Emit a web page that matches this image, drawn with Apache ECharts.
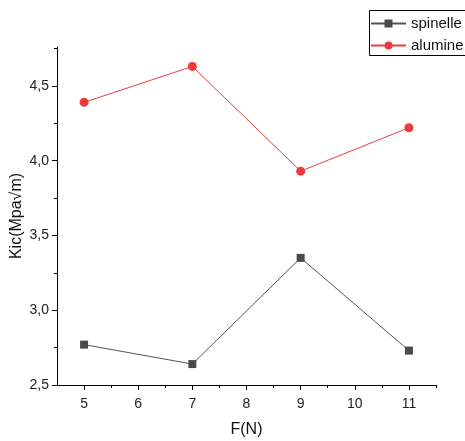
<!DOCTYPE html>
<html><head><meta charset="utf-8">
<script src="https://cdn.jsdelivr.net/npm/echarts@6/dist/echarts.min.js"></script>
<style>html,body{margin:0;padding:0;background:#fff}#c{width:465px;height:441px}</style>
</head><body><div id="c"></div>
<script>
const forces = [5, 7, 9, 11];
const spinelle = [2.77, 2.64, 3.35, 2.73];
const alumine = [4.39, 4.63, 3.93, 4.22];
const xTicks = [5, 6, 7, 8, 9, 10, 11];
const xMinorTicks = [5.5, 6.5, 7.5, 8.5, 9.5, 10.5, 11.5];
const yTicks = [2.5, 3.0, 3.5, 4.0, 4.5];
const yMinorTicks = [2.75, 3.25, 3.75, 4.25, 4.75];

const font = 'Liberation Sans, Arial, sans-serif';
const chart = echarts.init(document.getElementById('c'), null, {renderer: 'canvas'});
const fmt = v => v.toFixed(1).replace('.', ',');
chart.setOption({
  animation: false,
  backgroundColor: '#fff',
  grid: {left: 57, right: 29, top: 47, bottom: 56, containLabel: false, outerBoundsMode: 'none'},
  graphic: [{
    type: 'rect', shape: {x: 369.5, y: 10.5, width: 130, height: 45},
    style: {fill: 'none', stroke: '#000', lineWidth: 1}, z: 10
  }],
  legend: {
    orient: 'vertical', left: 368, top: 10,
    borderWidth: 0,
    padding: [6, 0, 0, 2], itemGap: 7,
    itemWidth: 35, itemHeight: 10,
    textStyle: {fontFamily: font, fontSize: 15, color: '#111'},
    data: ['spinelle', 'alumine']
  },
  xAxis: [{
    type: 'value', min: 4.5, max: 11.5,
    name: 'F(N)', nameLocation: 'middle', nameGap: 37, nameMoveOverlap: false,
    nameTextStyle: {fontFamily: font, fontSize: 16, color: '#111'},
    axisLine: {lineStyle: {color: '#000', width: 1}},
    axisTick: {show: true, customValues: xTicks, length: 5, lineStyle: {color: '#000'}},
    axisLabel: {customValues: xTicks, fontFamily: font, fontSize: 14, color: '#222', margin: 12},
    splitLine: {show: false}
  }, {
    type: 'value', min: 4.5, max: 11.5, position: 'bottom',
    axisLine: {show: false},
    axisTick: {show: true, customValues: xMinorTicks, length: 3, lineStyle: {color: '#000'}},
    axisLabel: {show: false},
    splitLine: {show: false}
  }],
  yAxis: [{
    type: 'value', min: 2.5, max: 4.76,
    name: 'Kic(Mpa√m)', nameLocation: 'middle', nameGap: 32, nameMoveOverlap: false,
    nameTextStyle: {fontFamily: font, fontSize: 16, color: '#111'},
    axisLine: {show: true, lineStyle: {color: '#000', width: 1}},
    axisTick: {show: true, customValues: yTicks, length: 5, lineStyle: {color: '#000'}},
    axisLabel: {customValues: yTicks, formatter: fmt, fontFamily: font, fontSize: 14, color: '#222', margin: 8},
    splitLine: {show: false}
  }, {
    type: 'value', min: 2.5, max: 4.76, position: 'left',
    axisLine: {show: false},
    axisTick: {show: true, customValues: yMinorTicks, length: 3, lineStyle: {color: '#000'}},
    axisLabel: {show: false},
    splitLine: {show: false}
  }],
  series: [{
    name: 'spinelle', type: 'line',
    data: forces.map((f, i) => [f, spinelle[i]]),
    symbol: 'rect', symbolSize: 8,
    lineStyle: {color: '#555', width: 1},
    itemStyle: {color: '#4a4a4a'}
  }, {
    name: 'alumine', type: 'line',
    data: forces.map((f, i) => [f, alumine[i]]),
    symbol: 'circle', symbolSize: 9,
    lineStyle: {color: '#ee3a3c', width: 1},
    itemStyle: {color: '#ee3a3c'}
  }]
});
</script></body></html>
